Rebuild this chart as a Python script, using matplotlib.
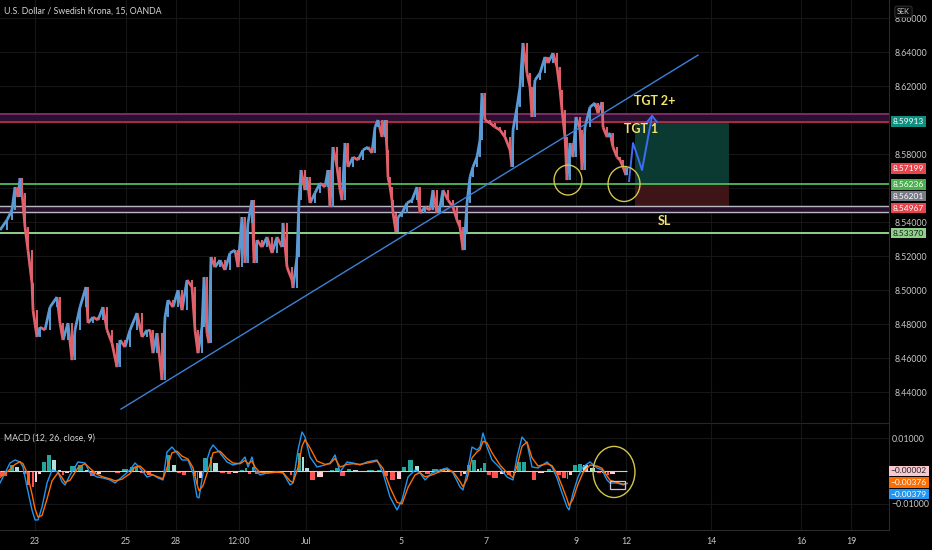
import numpy as np
import matplotlib.pyplot as plt
from matplotlib.collections import LineCollection
from matplotlib.patches import Ellipse, Rectangle
import matplotlib.transforms as mtransforms

plt.rcParams['font.family'] = ['Lato', 'DejaVu Sans']

# time axis: trading days counted from 23 Jun 00:00 (weekends dropped)
price_t = [-0.778, -0.622, -0.511, -0.444, -0.378, -0.333, -0.289, -0.222, -0.156, -0.067,
           -0.044, 0.044, 0.111, 0.222, 0.333, 0.489, 0.556, 0.622, 0.733, 0.822,
           0.889, 1.0, 1.133, 1.178, 1.289, 1.4, 1.511, 1.6, 1.711, 1.822,
           1.889, 2.0, 2.111, 2.267, 2.378, 2.489, 2.556, 2.622, 2.711, 2.822,
           2.889, 2.956, 3.067, 3.178, 3.267, 3.378, 3.489, 3.556, 3.622, 3.711,
           3.756, 3.822, 3.867, 3.911, 4.0, 4.111, 4.222, 4.333, 4.444, 4.511,
           4.6, 4.667, 4.733, 4.822, 4.867, 4.933, 5.044, 5.156, 5.267, 5.378,
           5.489, 5.511, 5.6, 5.711, 5.733, 5.822, 5.867, 5.911, 6.0, 6.044,
           6.111, 6.222, 6.333, 6.444, 6.511, 6.556, 6.622, 6.711, 6.778, 6.822,
           6.889, 6.956, 7.067, 7.178, 7.289, 7.4, 7.489, 7.556, 7.622, 7.711,
           7.778, 7.822, 7.844, 7.889, 7.933, 7.956, 8.022, 8.067, 8.156, 8.267,
           8.378, 8.489, 8.556, 8.667, 8.778, 8.844, 8.933, 9.0, 9.067, 9.178,
           9.289, 9.378, 9.444, 9.511, 9.556, 9.6, 9.667, 9.733, 9.822, 9.889,
           9.933, 10.0, 10.111, 10.222, 10.333, 10.444, 10.556, 10.6, 10.622, 10.711,
           10.778, 10.844, 10.933, 11.0, 11.044, 11.111, 11.222, 11.333, 11.4, 11.511,
           11.6, 11.667, 11.711, 11.778, 11.822, 11.889, 11.956, 12.022, 12.111, 12.156,
           12.222, 12.333, 12.444, 12.511, 12.6, 12.622, 12.711, 12.778, 12.844, 12.933,
           13.0, 13.067, 13.133, 13.156]
price_close = [8.5353, 8.5412, 8.5471, 8.5606, 8.5547, 8.5659, 8.5571, 8.5371, 8.5235, 8.5041,
               8.4882, 8.4724, 8.4782, 8.4765, 8.4900, 8.4959, 8.4806, 8.4706, 8.4806, 8.4588,
               8.4765, 8.4900, 8.5018, 8.4806, 8.4841, 8.4824, 8.4900, 8.4765, 8.4688, 8.4547,
               8.4706, 8.4665, 8.4765, 8.4865, 8.4724, 8.4765, 8.4765, 8.4629, 8.4747, 8.4471,
               8.4841, 8.4941, 8.4900, 8.5000, 8.4882, 8.5059, 8.5018, 8.4765, 8.4629, 8.4782,
               8.5076, 8.4747, 8.4688, 8.5194, 8.5135, 8.5176, 8.5118, 8.5218, 8.5235, 8.5135,
               8.5429, 8.5159, 8.5394, 8.5529, 8.5159, 8.5294, 8.5253, 8.5312, 8.5218, 8.5312,
               8.5253, 8.5394, 8.5135, 8.5059, 8.5012, 8.5194, 8.5529, 8.5706, 8.5588, 8.5665,
               8.5512, 8.5571, 8.5629, 8.5606, 8.5706, 8.5488, 8.5841, 8.5724, 8.5588, 8.5529,
               8.5865, 8.5724, 8.5782, 8.5765, 8.5824, 8.5841, 8.5806, 8.5959, 8.6000, 8.5900,
               8.6000, 8.5824, 8.5665, 8.5606, 8.5529, 8.5453, 8.5341, 8.5429, 8.5453, 8.5512,
               8.5529, 8.5606, 8.5453, 8.5488, 8.5471, 8.5588, 8.5453, 8.5488, 8.5588, 8.5529,
               8.5488, 8.5412, 8.5371, 8.5235, 8.5335, 8.5512, 8.5665, 8.5724, 8.5782, 8.5882,
               8.6159, 8.6000, 8.5982, 8.5959, 8.5941, 8.5900, 8.5824, 8.5724, 8.5941, 8.6076,
               8.6194, 8.6453, 8.6276, 8.6194, 8.6018, 8.6235, 8.6276, 8.6371, 8.6335, 8.6394,
               8.6312, 8.6176, 8.6059, 8.5900, 8.5647, 8.5865, 8.5782, 8.6018, 8.5941, 8.5706,
               8.5959, 8.6076, 8.6100, 8.6041, 8.6106, 8.5959, 8.5900, 8.5924, 8.5841, 8.5782,
               8.5765, 8.5724, 8.5676, 8.5720]

macd_t = [-0.778, -0.556, -0.444, -0.333, -0.267, -0.178, -0.067, 0.0, 0.067, 0.156,
          0.267, 0.378, 0.511, 0.6, 0.667, 0.778, 0.956, 1.111, 1.222, 1.378,
          1.511, 1.667, 1.778, 1.933, 2.111, 2.222, 2.333, 2.489, 2.622, 2.733,
          2.844, 2.933, 3.044, 3.156, 3.267, 3.4, 3.511, 3.6, 3.644, 3.733,
          3.889, 3.956, 4.111, 4.267, 4.4, 4.556, 4.667, 4.733, 4.822, 4.889,
          5.0, 5.156, 5.378, 5.511, 5.667, 5.733, 5.844, 5.933, 6.0, 6.111,
          6.267, 6.444, 6.556, 6.667, 6.778, 6.933, 7.067, 7.222, 7.378, 7.6,
          7.733, 7.889, 8.044, 8.156, 8.289, 8.444, 8.556, 8.667, 8.822, 9.0,
          9.156, 9.289, 9.444, 9.511, 9.6, 9.711, 9.822, 9.889, 9.956, 10.044,
          10.156, 10.333, 10.489, 10.622, 10.711, 10.822, 10.933, 11.044, 11.178, 11.378,
          11.489, 11.6, 11.711, 11.822, 11.867, 11.956, 12.067, 12.178, 12.333, 12.489,
          12.6, 12.711, 12.778, 12.933, 13.067, 13.156]
macd_line = [-0.00364, 0.00242, 0.00333, 0.00273, 0.00121, -0.00485, -0.01182, -0.01485, -0.01485, -0.01091,
             -0.00364, 0.00030, -0.00030, -0.00333, -0.00424, -0.00121, 0.00273, 0.00242, -0.00061, -0.00182,
             -0.00212, -0.00273, -0.00364, -0.00182, 0.00030, 0.00242, 0.00091, -0.00182, -0.00121, -0.00212,
             -0.00273, 0.00576, 0.00727, 0.00545, 0.00333, 0.00333, -0.00061, -0.00788, -0.00818, -0.00061,
             0.00636, 0.00788, 0.00545, 0.00273, 0.00182, 0.00242, 0.00424, 0.00121, 0.00424, 0.00030,
             -0.00121, -0.00061, -0.00030, -0.00061, -0.00424, -0.00364, 0.00636, 0.01182, 0.01030, 0.00424,
             0.00121, 0.00182, 0.00242, 0.00485, -0.00030, 0.00273, 0.00242, 0.00182, 0.00273, 0.00333,
             -0.00061, -0.00788, -0.01182, -0.00879, -0.00182, 0.00030, -0.00061, -0.00273, -0.00061, 0.00030,
             0.00091, -0.00061, -0.00485, -0.00576, -0.00061, 0.00727, 0.00636, 0.00727, 0.01152, 0.00727,
             0.00333, 0.00091, -0.00182, -0.00273, 0.00424, 0.01030, 0.00848, 0.00121, 0.00091, 0.00273,
             0.00121, -0.00212, -0.00667, -0.01091, -0.01182, -0.00667, -0.00182, 0.00121, 0.00273, 0.00091,
             0.00030, -0.00273, -0.00364, -0.00364, -0.00424, -0.003786]
signal_line = [-0.0020, 0.0005, 0.0020, 0.0028, 0.0022, -0.0005, -0.0070, -0.0115, -0.0140, -0.0135,
               -0.0085, -0.0030, -0.0005, -0.0020, -0.0035, -0.0028, 0.0010, 0.0022, 0.0008, -0.0010,
               -0.0018, -0.0024, -0.0030, -0.0025, -0.0008, 0.0012, 0.0015, -0.0005, -0.0012, -0.0018,
               -0.0024, 0.0010, 0.0055, 0.0060, 0.0045, 0.0036, 0.0010, -0.0040, -0.0060, -0.0045,
               0.0020, 0.0055, 0.0060, 0.0038, 0.0024, 0.0022, 0.0032, 0.0022, 0.0030, 0.0012,
               -0.0005, -0.0006, -0.0004, -0.0005, -0.0030, -0.0035, 0.0010, 0.0075, 0.0095, 0.0070,
               0.0030, 0.0020, 0.0022, 0.0038, 0.0012, 0.0020, 0.0022, 0.0020, 0.0024, 0.0030,
               0.0008, -0.0050, -0.0095, -0.0100, -0.0050, -0.0012, -0.0005, -0.0018, -0.0012, -0.0002,
               0.0005, -0.0002, -0.0032, -0.0048, -0.0025, 0.0040, 0.0058, 0.0065, 0.0090, 0.0085,
               0.0055, 0.0018, -0.0005, -0.0020, 0.0015, 0.0075, 0.0088, 0.0040, 0.0015, 0.0022,
               0.0016, -0.0008, -0.0045, -0.0085, -0.0105, -0.0085, -0.0040, -0.0005, 0.0018, 0.0015,
               0.0008, -0.0015, -0.0028, -0.0035, -0.0040, -0.003764]

date_ticks = [0, 2.02, 3.13, 4.53, 6.02, 8.13, 10.02, 12.02, 13.13, 15.02, 17.02, 18.13]
date_labels = ['23', '25', '28', '12:00', 'Jul', '5', '7', '9', '12', '14', '16', '19']
price_ticks = [8.44, 8.46, 8.48, 8.50, 8.52, 8.54, 8.56, 8.58, 8.60, 8.62, 8.64, 8.66]
hidden_ticks = [8.56, 8.60]  # covered by the coloured price tags

# levels drawn on the chart
resist_band = (8.59913, 8.6035)
entry_level = 8.56236
sl_band = (8.5461, 8.5497)
support_level = 8.53370
take_profit = 8.59913
stop_loss = 8.54967
last_price = 8.57199
trend_t = [1.911, 14.733]
trend_p = [8.4300, 8.6382]
arrow_t = [13.2, 13.289, 13.489, 13.711]
arrow_p = [8.5641, 8.5865, 8.5706, 8.6024]
box_t = (13.333, 15.422)

BG = '#000000'
TXT = '#c9c9c9'
GRID = '#161616'
UP = '#5b9bd5'
DOWN = '#e0616b'
YEL = '#f2e46a'
FS = 6.0

fig = plt.figure(figsize=(9.32, 5.5), dpi=100, facecolor=BG)
ax = fig.add_axes([0, 0.2327, 0.9539, 0.7673], facecolor=BG)
ax2 = fig.add_axes([0, 0.0364, 0.9539, 0.1945], facecolor=BG, sharex=ax)

xmin, xmax = -0.778, 18.978
ax.set_xlim(xmin, xmax)
ax.set_ylim(8.4224, 8.6706)

for a in (ax, ax2):
    for s in a.spines.values():
        s.set_visible(False)
    a.spines['right'].set_visible(True)
    a.spines['right'].set_color('#2a2a2a')
    a.yaxis.tick_right()
    a.tick_params(axis='both', length=0, colors=TXT, labelsize=6.3)
    a.set_xticks(date_ticks)
    a.grid(True, color=GRID, lw=0.8)
    a.set_axisbelow(True)

ax.set_yticks(price_ticks)
ax.set_yticklabels(['' if v in hidden_ticks else f'{v:.5f}' for v in price_ticks])
ax.tick_params(axis='y', pad=4)
ax.tick_params(axis='x', labelbottom=False)

# horizontal zones
ax.axhspan(*resist_band, color='#2a0f2e', zorder=1)
ax.axhline(resist_band[1], color='#8a3470', lw=1.2, zorder=2)
ax.axhline(resist_band[0], color='#c0304a', lw=1.2, zorder=2)
ax.axhspan(*sl_band, color='#24102c', zorder=1)
ax.axhline(sl_band[0], color='#b8b8c0', lw=1.0, zorder=2)
ax.axhline(sl_band[1], color='#b8b8c0', lw=1.0, zorder=2)
ax.axhline(entry_level, color='#4caf50', lw=1.4, zorder=2)
ax.axhline(support_level, color='#8fd18c', lw=1.4, zorder=2)

# long position box
ax.add_patch(Rectangle((box_t[0], entry_level), box_t[1] - box_t[0], take_profit - entry_level,
                       facecolor='#0b3a32', edgecolor='none', zorder=1.5))
ax.add_patch(Rectangle((box_t[0], stop_loss), box_t[1] - box_t[0], entry_level - stop_loss,
                       facecolor='#3e1416', edgecolor='none', zorder=1.5))

# candles (open = previous close)
pt = np.array(price_t)
pc = np.array(price_close)
segs = [[(pt[i - 1], pc[i - 1]), (pt[i], pc[i])] for i in range(1, len(pt))]
cols = [UP if pc[i] >= pc[i - 1] else DOWN for i in range(1, len(pt))]
ax.add_collection(LineCollection(segs, colors=cols, linewidths=2.0, zorder=3))
ax.vlines(pt[1:], np.minimum(pc[1:], pc[:-1]), np.maximum(pc[1:], pc[:-1]),
          colors=cols, linewidths=1.4, zorder=3)

# trendline and drawings
ax.plot(trend_t, trend_p, color='#3b82d6', lw=1.0, zorder=4)
ax.plot(arrow_t, arrow_p, color='#3d6ef0', lw=1.4, zorder=5)
ax.plot([13.6, arrow_t[-1], 13.822], [8.5988, arrow_p[-1], 8.5988], color='#3d6ef0', lw=1.4, zorder=5)
for c, w, h in [((11.844, 8.5647), 0.62, 0.0176), ((13.089, 8.5624), 0.71, 0.0206)]:
    ax.add_patch(Ellipse(c, w, h, fill=False, edgecolor='#d2c54a', lw=1.0, zorder=5))

ax.text(13.767, 8.6112, 'TGT 2+', color=YEL, fontsize=9, fontweight='bold', ha='center', va='center', zorder=6)
ax.text(13.467, 8.5947, 'TGT 1', color=YEL, fontsize=9, fontweight='bold', ha='center', va='center', zorder=6)
ax.text(13.989, 8.5406, 'SL', color=YEL, fontsize=9, fontweight='bold', ha='center', va='center', zorder=6)

ax.text(0.005, 0.974, 'U.S. Dollar / Swedish Krona, 15, OANDA', transform=ax.transAxes,
        color='#d6d6d6', fontsize=6.3, ha='left', va='center')

# right-side price tags
tr = mtransforms.blended_transform_factory(ax.transAxes, ax.transData)
tags = [(8.59913, f'{take_profit:.5f}', '#0f8f80', 'white'),
        (8.57150, f'{last_price:.5f}', '#e8444c', 'white'),
        (8.56206, f'{entry_level:.5f}', '#4caf50', 'white'),
        (8.55530, '8.56201', '#787b86', 'white'),
        (8.54820, f'{stop_loss:.5f}', '#e8444c', 'white'),
        (8.53350, f'{support_level:.5f}', '#8fd18c', '#1a1a1a')]
for y, s, bg, fg in tags:
    ax.text(1.004, y, s, transform=tr, color=fg, fontsize=FS, ha='left', va='center', clip_on=False,
            zorder=10, bbox=dict(boxstyle='square,pad=0.22', facecolor=bg, edgecolor='none'))
ax.text(1.009, 0.972, 'SEK', transform=ax.transAxes, color=TXT, fontsize=5.3, ha='left', va='center',
        clip_on=False, zorder=10,
        bbox=dict(boxstyle='round,pad=0.3', facecolor='#0a0a0a', edgecolor='#3a3a3a', lw=0.6))

# MACD pane
mt = np.array(macd_t)
ml = np.array(macd_line)
sg = np.array(signal_line)
hist = ml - sg
widths = np.append(np.diff(mt), 0.05)
hcol = []
for i, h in enumerate(hist):
    prev = hist[i - 1] if i > 0 else 0
    if h >= 0:
        hcol.append('#26a69a' if h >= prev else '#b2dfdb')
    else:
        hcol.append('#ff5252' if h < prev else '#ffcdd2')
ax2.bar(mt, hist, width=widths * 0.7, align='edge', color=hcol, zorder=2)
ax2.hlines(0, mt[0], mt[-1], color='#d0d0d0', lw=0.8, zorder=3)
ax2.plot(mt, ml, color='#2196f3', lw=1.0, zorder=4)
ax2.plot(mt, sg, color='#ff6d00', lw=1.0, zorder=4)
ax2.set_ylim(-0.0179, 0.01455)
ax2.set_yticks([0.01, -0.01])
ax2.set_yticklabels(['0.01000', '\u22120.01000'])
ax2.tick_params(axis='y', pad=2)
ax2.set_xticklabels(date_labels)
ax2.tick_params(axis='x', pad=5)
ax2.spines['top'].set_visible(True)
ax2.spines['top'].set_color('#262626')
ax2.spines['bottom'].set_visible(True)
ax2.spines['bottom'].set_color('#2a2a2a')

ax2.add_patch(Ellipse((12.867, -0.0003), 0.93, 0.0155, fill=False, edgecolor='#d2c54a', lw=1.0, zorder=5))
ax2.add_patch(Rectangle((12.778, -0.00545), 0.333, 0.00245, fill=False, edgecolor='#c9c0e0', lw=0.9, zorder=5))

ax2.text(0.005, 0.86, 'MACD (12, 26, close, 9)', transform=ax2.transAxes, color='#d6d6d6',
         fontsize=6.3, ha='left', va='center')

tr2 = mtransforms.blended_transform_factory(ax2.transAxes, ax2.transData)
mtags = [(0.0, f'\u2212{abs(hist[-1]):.5f}', '#f8c8d0', '#222222'),
         (-0.00345, f'\u2212{abs(signal_line[-1]):.5f}', '#ff6d00', 'white'),
         (-0.0070, f'\u2212{abs(macd_line[-1]):.5f}', '#2196f3', 'white')]
for y, s, bg, fg in mtags:
    ax2.text(1.002, y, s, transform=tr2, color=fg, fontsize=FS, ha='left', va='center', clip_on=False,
             zorder=10, bbox=dict(boxstyle='square,pad=0.22', facecolor=bg, edgecolor='none'))

fig.savefig('out.png', dpi=100, facecolor=BG)
